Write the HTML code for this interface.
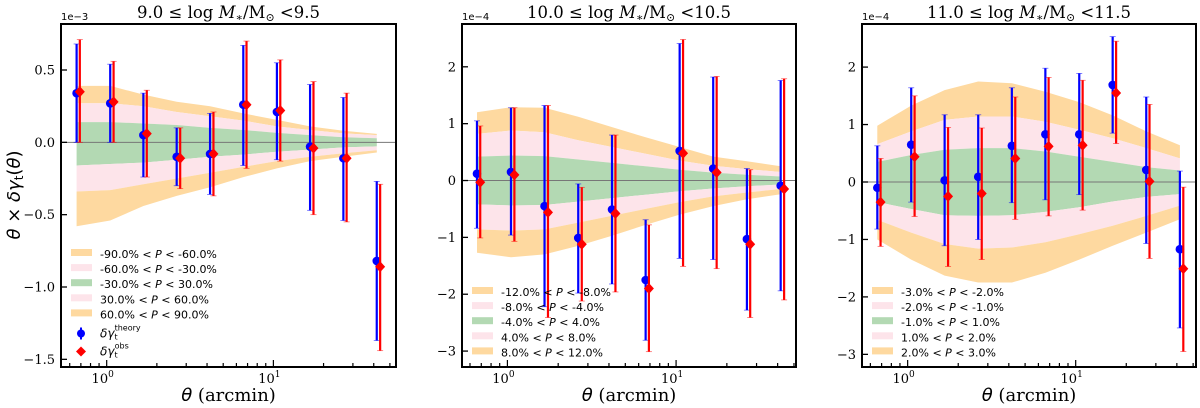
<!DOCTYPE html>
<html><head><meta charset="utf-8">
<style>
html,body{margin:0;padding:0;background:#fff;}
svg{display:block;font-family:"DejaVu Serif","Liberation Serif",serif;}
</style></head>
<body>
<svg id="chart" width="1200" height="408" viewBox="0 0 1200 408"></svg>
<script>
// shared angular bins (arcmin)
const thetaTheory = [0.66,1.05,1.66,2.63,4.17,6.6,10.5,16.6,26.3,41.7];
const thetaObs = [0.69,1.10,1.74,2.76,4.37,6.9,11.0,17.4,27.5,43.7];

// Panel 1 (units 1e-3)
const p1Theory = [0.34,0.27,0.05,-0.10,-0.08,0.26,0.21,-0.03,-0.11,-0.82];
const p1TheoryHi = [0.68,0.54,0.34,0.10,0.20,0.67,0.55,0.40,0.31,-0.27];
const p1TheoryLo = [0.0,0.0,-0.24,-0.30,-0.36,-0.16,-0.12,-0.47,-0.54,-1.37];
const p1Obs = [0.35,0.28,0.06,-0.11,-0.08,0.26,0.22,-0.04,-0.11,-0.86];
const p1ObsHi = [0.71,0.56,0.36,0.10,0.21,0.70,0.57,0.42,0.34,-0.29];
const p1ObsLo = [0.0,0.0,-0.24,-0.32,-0.37,-0.18,-0.13,-0.50,-0.55,-1.44];
const p1OuterHi = [0.39,0.39,0.33,0.28,0.25,0.20,0.155,0.11,0.08,0.058];
const p1OuterLo = [-0.58,-0.54,-0.44,-0.37,-0.31,-0.24,-0.18,-0.13,-0.10,-0.07];
const p1MidHi = [0.27,0.27,0.25,0.21,0.18,0.15,0.11,0.085,0.062,0.05];
const p1MidLo = [-0.34,-0.33,-0.29,-0.25,-0.21,-0.17,-0.13,-0.10,-0.075,-0.055];
const p1InHi = [0.14,0.14,0.13,0.12,0.10,0.085,0.065,0.05,0.035,0.028];
const p1InLo = [-0.16,-0.15,-0.14,-0.12,-0.10,-0.085,-0.065,-0.05,-0.035,-0.028];
const p1Ticks = [0.5,0.0,-0.5,-1.0,-1.5];
const p1TickLabels = ["0.5","0.0","\u22120.5","\u22121.0","\u22121.5"];
const p1Legend = ["-90.0% < P < -60.0%","-60.0% < P < -30.0%","-30.0% < P < 30.0%","30.0% < P < 60.0%","60.0% < P < 90.0%"];

// Panel 2 (units 1e-4)
const p2Theory = [0.12,0.15,-0.45,-1.01,-0.51,-1.75,0.52,0.21,-1.03,-0.09];
const p2TheoryHi = [1.05,1.28,1.32,-0.06,0.80,-0.69,2.41,1.82,0.21,1.76];
const p2TheoryLo = [-0.84,-0.96,-2.22,-1.98,-1.82,-2.81,-1.37,-1.39,-2.28,-1.94];
const p2Obs = [-0.03,0.10,-0.56,-1.12,-0.58,-1.90,0.48,0.14,-1.12,-0.15];
const p2ObsHi = [0.96,1.28,1.32,-0.12,0.80,-0.78,2.48,1.83,0.19,1.79];
const p2ObsLo = [-1.01,-1.07,-2.41,-2.12,-1.96,-3.01,-1.51,-1.55,-2.41,-2.10];
const p2OuterHi = [1.2,1.29,1.28,1.12,0.94,0.76,0.59,0.42,0.34,0.25];
const p2OuterLo = [-1.27,-1.35,-1.3,-1.15,-0.97,-0.78,-0.6,-0.45,-0.33,-0.24];
const p2MidHi = [0.82,0.88,0.85,0.71,0.59,0.47,0.35,0.26,0.2,0.15];
const p2MidLo = [-0.86,-0.88,-0.86,-0.74,-0.62,-0.5,-0.38,-0.28,-0.21,-0.15];
const p2InHi = [0.42,0.44,0.43,0.37,0.31,0.25,0.19,0.14,0.1,0.07];
const p2InLo = [-0.42,-0.44,-0.43,-0.37,-0.31,-0.25,-0.19,-0.14,-0.1,-0.07];
const p2Ticks = [2,1,0,-1,-2,-3];
const p2TickLabels = ["2","1","0","\u22121","\u22122","\u22123"];
const p2Legend = ["-12.0% < P < -8.0%","-8.0% < P < -4.0%","-4.0% < P < 4.0%","4.0% < P < 8.0%","8.0% < P < 12.0%"];

// Panel 3 (units 1e-4)
const p3Theory = [-0.1,0.65,0.03,0.09,0.63,0.83,0.83,1.69,0.21,-1.17];
const p3TheoryHi = [0.63,1.64,1.17,1.17,1.64,1.98,1.89,2.53,1.48,0.19];
const p3TheoryLo = [-0.82,-0.35,-1.11,-1.0,-0.36,-0.31,-0.22,0.85,-1.07,-2.54];
const p3Obs = [-0.35,0.44,-0.25,-0.2,0.41,0.62,0.64,1.55,0.01,-1.51];
const p3ObsHi = [0.41,1.5,0.95,0.94,1.48,1.82,1.77,2.45,1.35,-0.09];
const p3ObsLo = [-1.12,-0.6,-1.47,-1.35,-0.65,-0.59,-0.49,0.67,-1.33,-2.95];
const p3OuterHi = [0.98,1.33,1.6,1.75,1.72,1.57,1.39,1.16,0.88,0.64];
const p3OuterLo = [-1.0,-1.35,-1.63,-1.75,-1.75,-1.58,-1.35,-1.11,-0.88,-0.65];
const p3MidHi = [0.66,0.88,1.08,1.14,1.14,1.05,0.91,0.76,0.59,0.41];
const p3MidLo = [-0.66,-0.88,-1.08,-1.16,-1.14,-1.05,-0.91,-0.76,-0.59,-0.41];
const p3InHi = [0.35,0.47,0.56,0.59,0.59,0.53,0.44,0.35,0.26,0.2];
const p3InLo = [-0.35,-0.47,-0.58,-0.59,-0.58,-0.52,-0.44,-0.34,-0.26,-0.21];
const p3Ticks = [2,1,0,-1,-2,-3];
const p3TickLabels = ["2","1","0","\u22121","\u22122","\u22123"];
const p3Legend = ["-3.0% < P < -2.0%","-2.0% < P < -1.0%","-1.0% < P < 1.0%","1.0% < P < 2.0%","2.0% < P < 3.0%"];

const NS = "http://www.w3.org/2000/svg";
const svg = document.getElementById("chart");
function mk(tag, attrs, parent, text){
  const e = document.createElementNS(NS, tag);
  for (const k in attrs) e.setAttribute(k, attrs[k]);
  if (text !== undefined) e.textContent = text;
  (parent || svg).appendChild(e);
  return e;
}
const ORANGE = "#fed9a0", PINK = "#fde4ea", GREEN = "#b3d9b3";

function panel(cfg){
  const g = mk("g", {});
  
  
  const L = cfg.left, R = cfg.right, T = 24, B = 367;
  const lx0 = Math.log10(cfg.xmin), lx1 = Math.log10(cfg.xmax);
  const X = v => L + (Math.log10(v) - lx0) / (lx1 - lx0) * (R - L);
  const Y = v => T + (cfg.ymax - v) / (cfg.ymax - cfg.ymin) * (B - T);

  function band(hi, lo, color, nm){
    let d = "";
    thetaTheory.forEach((t,i)=>{ d += (i?"L":"M") + X(t).toFixed(1) + "," + Y(hi[i]).toFixed(1); });
    for (let i = thetaTheory.length-1; i >= 0; i--) d += "L" + X(thetaTheory[i]).toFixed(1) + "," + Y(lo[i]).toFixed(1);
    const p = mk("path", {d: d+"Z", fill: color}, g);
    
    
  }
  band(cfg.outerHi, cfg.midHi, ORANGE, "band-upper-outer");
  band(cfg.midHi, cfg.inHi, PINK, "band-upper-mid");
  band(cfg.inHi, cfg.inLo, GREEN, "band-inner");
  band(cfg.inLo, cfg.midLo, PINK, "band-lower-mid");
  band(cfg.midLo, cfg.outerLo, ORANGE, "band-lower-outer");

  const zl = mk("line", {x1:L, x2:R, y1:Y(0), y2:Y(0), stroke:"#777", "stroke-width":1}, g);
  
  

  function series(xs, ys, hi, lo, color, kind){
    xs.forEach((t,i)=>{
      const x = X(t);
      const eb = mk("g", {}, g);
      
      
      mk("line", {x1:x, x2:x, y1:Y(hi[i]), y2:Y(lo[i]), stroke:color, "stroke-width":2.2}, eb);
      mk("line", {x1:x-3, x2:x+3, y1:Y(hi[i]), y2:Y(hi[i]), stroke:color, "stroke-width":0.8, opacity:0.6}, eb);
      mk("line", {x1:x-3, x2:x+3, y1:Y(lo[i]), y2:Y(lo[i]), stroke:color, "stroke-width":0.8, opacity:0.6}, eb);
      const y = Y(ys[i]);
      let m;
      if (kind === "theory") m = mk("circle", {cx:x, cy:y, r:4.3, fill:color}, g);
      else m = mk("path", {d:`M${x},${y-5.5}L${x+5},${y}L${x},${y+5.5}L${x-5},${y}Z`, fill:color}, g);
      
      
    });
  }
  series(thetaTheory, cfg.theory, cfg.theoryHi, cfg.theoryLo, "#0000ff", "theory");
  series(thetaObs, cfg.obs, cfg.obsHi, cfg.obsLo, "#ff0000", "obs");

  const fr = mk("rect", {x:L, y:T, width:R-L, height:B-T, fill:"none", stroke:"#000", "stroke-width":2}, g);
  
  

  cfg.ticks.forEach((v,i)=>{
    const y = Y(v);
    mk("line", {x1:L, x2:L+6, y1:y, y2:y, stroke:"#000", "stroke-width":1.3}, g);
    const tl = mk("text", {x:L-6, y:y+4.5, "text-anchor":"end", "font-size":13, fill:"#000"}, g, cfg.tickLabels[i]);
    
    
  });
  const sc = mk("text", {x:L, y:T-4, "font-size":10, fill:"#000", "font-family":"DejaVu Sans, sans-serif"}, g, cfg.scale);
  
  

  for (let dec = -1; dec <= 1; dec++){
    for (let k = 1; k <= 9; k++){
      const v = k * Math.pow(10, dec);
      if (v < cfg.xmin || v > cfg.xmax) continue;
      const x = X(v);
      const len = k === 1 ? 7 : 4;
      mk("line", {x1:x, x2:x, y1:B, y2:B-len, stroke:"#000", "stroke-width":1.2}, g);
      if (k === 1){
        const t = mk("text", {x:x-4, y:B+16, "text-anchor":"middle", "font-size":13}, g, "10");
        mk("tspan", {dy:-6, "font-size":9}, t, String(dec));
        
        
      }
    }
  }
  const xl = mk("text", {x:(L+R)/2, y:401, "text-anchor":"middle", "font-size":18}, g);
  mk("tspan", {"font-style":"italic", "font-family":"DejaVu Sans, sans-serif"}, xl, "\u03b8");
  mk("tspan", {}, xl, " (arcmin)");
  
  

  const ti = mk("text", {x:(L+R)/2, y:18, "text-anchor":"middle", "font-size":16.5}, g);
  mk("tspan", {}, ti, cfg.title[0] + " \u2264  log ");
  mk("tspan", {"font-style":"italic"}, ti, "M");
  mk("tspan", {"font-size":11, dy:3}, ti, "\u2217");
  mk("tspan", {dy:-3}, ti, "/M");
  mk("tspan", {"font-size":11, dy:3}, ti, "\u2299");
  mk("tspan", {dy:-3}, ti, " <" + cfg.title[1]);
  
  

  const lg = mk("g", {"font-family":"DejaVu Sans, sans-serif", "font-size":11}, g);
  
  
  const cols = [ORANGE, PINK, GREEN, PINK, ORANGE];
  cfg.legend.forEach((s,i)=>{
    const y = cfg.legY + i*15.1;
    const e = mk("g", {}, lg);
    
    
    mk("rect", {x:L+10, y:y-5, width:21, height:7, fill:cols[i]}, e);
    const parts = s.split("P");
    const t = mk("text", {x:L+39, y:y+4}, e);
    mk("tspan", {}, t, parts[0]);
    mk("tspan", {"font-style":"italic"}, t, "P");
    mk("tspan", {}, t, parts[1]);
  });
  if (cfg.markers){
    const y1 = cfg.legY + 5*15.1 + 4, y2 = y1 + 18;
    const e1 = mk("g", {}, lg);
    
    
    mk("line", {x1:L+20, x2:L+20, y1:y1-6, y2:y1+6, stroke:"#0000ff", "stroke-width":2}, e1);
    mk("circle", {cx:L+20, cy:y1, r:4, fill:"#0000ff"}, e1);
    const t1 = mk("text", {x:L+39, y:y1+4, "font-style":"italic", "font-size":12}, e1, "\u03b4\u03b3");
    mk("tspan", {"font-size":8, dy:2, "font-style":"normal"}, t1, "t");
    mk("tspan", {"font-size":8, dy:-9, dx:-3, "font-style":"normal"}, t1, "theory");
    const e2 = mk("g", {}, lg);
    
    
    mk("path", {d:`M${L+20},${y2-5}L${L+25},${y2}L${L+20},${y2+5}L${L+15},${y2}Z`, fill:"#ff0000"}, e2);
    const t2 = mk("text", {x:L+39, y:y2+4, "font-style":"italic", "font-size":12}, e2, "\u03b4\u03b3");
    mk("tspan", {"font-size":8, dy:2, "font-style":"normal"}, t2, "t");
    mk("tspan", {"font-size":8, dy:-9, dx:-3, "font-style":"normal"}, t2, "obs");
  }
}

panel({name:"panel-mass-9", left:61, right:396, xmin:0.532, xmax:54.4, ymin:-1.553, ymax:0.818,
  theory:p1Theory, theoryHi:p1TheoryHi, theoryLo:p1TheoryLo, obs:p1Obs, obsHi:p1ObsHi, obsLo:p1ObsLo,
  outerHi:p1OuterHi, outerLo:p1OuterLo, midHi:p1MidHi, midLo:p1MidLo, inHi:p1InHi, inLo:p1InLo,
  ticks:p1Ticks, tickLabels:p1TickLabels, scale:"1e\u22123", title:["9.0","9.5"], legend:p1Legend, legY:254, markers:true});
panel({name:"panel-mass-10", left:462, right:796, xmin:0.538, xmax:51.4, ymin:-3.28, ymax:2.753,
  theory:p2Theory, theoryHi:p2TheoryHi, theoryLo:p2TheoryLo, obs:p2Obs, obsHi:p2ObsHi, obsLo:p2ObsLo,
  outerHi:p2OuterHi, outerLo:p2OuterLo, midHi:p2MidHi, midLo:p2MidLo, inHi:p2InHi, inLo:p2InLo,
  ticks:p2Ticks, tickLabels:p2TickLabels, scale:"1e\u22124", title:["10.0","10.5"], legend:p2Legend, legY:292, markers:false});
panel({name:"panel-mass-11", left:862, right:1196, xmin:0.535, xmax:52, ymin:-3.22, ymax:2.75,
  theory:p3Theory, theoryHi:p3TheoryHi, theoryLo:p3TheoryLo, obs:p3Obs, obsHi:p3ObsHi, obsLo:p3ObsLo,
  outerHi:p3OuterHi, outerLo:p3OuterLo, midHi:p3MidHi, midLo:p3MidLo, inHi:p3InHi, inLo:p3InLo,
  ticks:p3Ticks, tickLabels:p3TickLabels, scale:"1e\u22124", title:["11.0","11.5"], legend:p3Legend, legY:292, markers:false});

const yt = mk("text", {x:0, y:0, transform:"translate(20,195) rotate(-90)", "text-anchor":"middle", "font-size":18, "font-family":"DejaVu Sans, sans-serif"});
mk("tspan", {"font-style":"italic"}, yt, "\u03b8");
mk("tspan", {}, yt, " \u00d7 ");
mk("tspan", {"font-style":"italic"}, yt, "\u03b4\u03b3");
mk("tspan", {"font-size":12, dy:3}, yt, "t");
mk("tspan", {dy:-3}, yt, "(");
mk("tspan", {"font-style":"italic"}, yt, "\u03b8");
mk("tspan", {}, yt, ")");


</script>
</body></html>
